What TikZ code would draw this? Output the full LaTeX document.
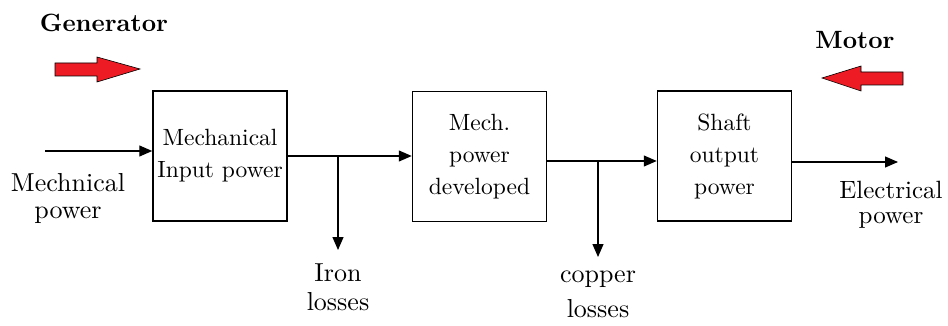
\documentclass[tikz,border=0pt]{standalone}
\usepackage{fontspec}
\IfFontExistsTF{lmroman10-regular.otf}
  {\setmainfont{lmroman10-regular.otf}[BoldFont=lmroman10-bold.otf, ItalicFont=lmroman10-italic.otf]}
  {}
\usetikzlibrary{arrows.meta}
\definecolor{arrred}{HTML}{ED1C24}
\begin{document}
\begin{tikzpicture}[x=1pt,y=-1pt,
  blk/.style={draw, line width=1.5pt, minimum width=134pt, minimum height=130pt, align=center, inner sep=0pt, font=\rmfamily\fontsize{23.5}{32}\selectfont},
  lbl/.style={align=center, inner sep=0pt, font=\rmfamily\fontsize{26}{27}\selectfont},
  ttl/.style={inner sep=0pt, font=\rmfamily\fontsize{25}{30}\selectfont\bfseries},
  flow/.style={line width=1.2pt, -{Triangle[length=13pt,width=11pt]}},
  bigarrow/.style={fill=arrred, draw=black, line width=0.6pt, line join=miter}]
\useasboundingbox (0,0) rectangle (948,326);

% titles and red direction arrows
\node[ttl] (gen) at (104,23) {Generator};
\node[ttl] (mot) at (855,40) {Motor};
\draw[bigarrow] (55,63) -- (97,63) -- (97,57) -- (140,69) -- (97,82) -- (97,76) -- (55,76) -- cycle;
\draw[bigarrow] (903,72) -- (861,72) -- (861,66) -- (822,78) -- (861,91) -- (861,85) -- (903,85) -- cycle;

% blocks
\node[blk] (b1) at (220,156) {Mechanical\\Input power};
\node[blk] (b2) at (479.5,156.5) {Mech.\\power\\developed};
\node[blk] (b3) at (724.5,156) {Shaft\\output\\power};

% coordinates
\coordinate (inp) at (45,151);
\coordinate (outp) at (898,162);
\coordinate (j1) at (338,156);
\coordinate (j1e) at (338,250);
\coordinate (j2) at (598,161);
\coordinate (j2e) at (598,257);

% connectors
\draw[flow] (inp) -- (b1.west |- inp);
\draw[flow] (b1.east |- j1) -- (b2.west |- j1);
\draw[flow] (b2.east |- j2) -- (b3.west |- j2);
\draw[flow] (b3.east |- outp) -- (outp);
\draw[flow] (j1) -- (j1e);
\draw[flow] (j2) -- (j2e);

% labels
\node[lbl] (mp) at (68,198) {Mechnical\\power};
\node[lbl, font=\rmfamily\fontsize{26}{29}\selectfont] (iron) at (338,287) {Iron\\losses};
\node[lbl, font=\rmfamily\fontsize{26}{35}\selectfont] (cu) at (598,294) {copper\\losses};
\node[lbl, font=\rmfamily\fontsize{25}{25}\selectfont] (ep) at (891,205) {Electrical\\power};
\end{tikzpicture}
\end{document}
